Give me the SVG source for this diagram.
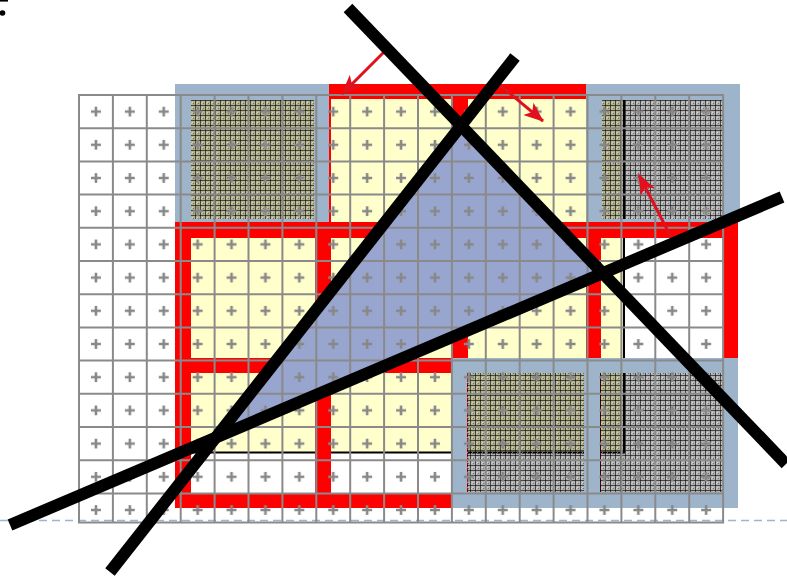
<svg xmlns="http://www.w3.org/2000/svg" width="787" height="577" viewBox="0 0 787 577">
<defs>
<style>
.red{fill:#ff0000}
.blue{fill:#9db4cb;fill-rule:evenodd}
.hatch{fill:url(#hatch)}
.grid{fill:none;stroke:#8a8a8a;stroke-width:2}
.arrow{fill:none;stroke:#e0101e;stroke-width:3;marker-end:url(#ah)}
.bar{fill:none;stroke:#000;stroke-width:12;stroke-linecap:butt}
</style>
<pattern id="hatch" width="5" height="5" patternUnits="userSpaceOnUse">
<rect width="5" height="5" fill="#000" fill-opacity="0.3"/>
<rect x="2" y="2" width="1" height="1" fill="#fff" fill-opacity="0.45"/>
<rect x="3" y="3" width="1" height="1" fill="#000" fill-opacity="0.35"/>
<rect x="1" y="3" width="1" height="1" fill="#fff" fill-opacity="0.3"/>
<path d="M0 0.5H5M0.5 0V5" stroke="#000" stroke-opacity="0.6" stroke-width="1"/>
</pattern>
<pattern id="cross" x="79" y="95" width="33.9" height="33.2" patternUnits="userSpaceOnUse">
<path d="M11.95 16.6h10M16.95 11.6v10" stroke="#888" stroke-width="2.6"/>
</pattern>
<marker id="ah" markerUnits="userSpaceOnUse" markerWidth="20" markerHeight="16" viewBox="0 0 20 16" refX="19" refY="8" orient="auto">
<path d="M0 0L20 8L0 16L5 8Z" fill="#e0101e"/>
</marker>
</defs>
<rect width="787" height="577" fill="#fff"/>
<g id="corner-mark">
<path d="M0 0.8H8" stroke="#000" stroke-width="1.6"/>
<circle cx="2.5" cy="13" r="2.8" fill="#000"/>
</g>
<g id="yellow-area">
<rect x="183" y="91" width="441" height="361.5" fill="#ffffcc" stroke="#000" stroke-width="2"/>
</g>
<g id="red-frames">
<rect class="red" x="175" y="84" width="16" height="424"/>
<rect class="red" x="315" y="84" width="16" height="424"/>
<rect class="red" x="451" y="84" width="17" height="424"/>
<rect class="red" x="586" y="84" width="15" height="424"/>
<rect class="red" x="723" y="84" width="15" height="424"/>
<rect class="red" x="175" y="84" width="563" height="15"/>
<rect class="red" x="175" y="222" width="563" height="16"/>
<rect class="red" x="175" y="358" width="563" height="15"/>
<rect class="red" x="175" y="493" width="563" height="15"/>
</g>
<g id="blue-top-left">
<path class="blue" d="M175 84H329V222H175Z M191 100H314V219H191Z"/>
<rect class="hatch" x="191" y="100" width="123" height="119"/>
</g>
<g id="blue-top-right">
<path class="blue" d="M586 84H740V222H586Z M602 100H723V219H602Z"/>
<rect class="hatch" x="602" y="100" width="121" height="119"/>
</g>
<g id="blue-bottom">
<path class="blue" d="M451 358H738V508H451Z M467 373H584V492H467Z M600 373H723V492H600Z"/>
<rect class="hatch" x="467" y="373" width="117" height="119"/>
<rect class="hatch" x="600" y="373" width="123" height="119"/>
</g>
<g id="triangle">
<path d="M461.4 125.2L603.2 272.9L215.7 437.6Z" fill="#98a5cf"/>
</g>
<g id="baseline">
<path d="M0 520.5H787" stroke="#9fb5c9" stroke-width="1.5" stroke-dasharray="8 5"/>
</g>
<g id="grid">
<rect x="79" y="95" width="644.1" height="427.5" fill="url(#cross)"/>
<path class="grid" d="M79 94V523.5M112.9 94V523.5M146.8 94V523.5M180.7 94V523.5M214.6 94V523.5M248.5 94V523.5M282.4 94V523.5M316.3 94V523.5M350.2 94V523.5M384.1 94V523.5M418 94V523.5M451.9 94V523.5M485.8 94V523.5M519.7 94V523.5M553.6 94V523.5M587.5 94V523.5M621.4 94V523.5M655.3 94V523.5M689.2 94V523.5M723.1 94V523.5M78 95H724.1M78 128.2H724.1M78 161.4H724.1M78 194.6H724.1M78 227.8H724.1M78 261H724.1M78 294.2H724.1M78 327.4H724.1M78 360.6H724.1M78 393.8H724.1M78 427H724.1M78 460.2H724.1M78 493.4H724.1M78 522.5H724.1"/>
</g>
<g id="connectors">
<path class="arrow" d="M386 50L342 94"/>
<path class="arrow" d="M495 81L543 121"/>
<path class="arrow" d="M674 243L639 175"/>
<path class="bar" d="M348 8L786 464"/>
<path class="bar" d="M110 572L515 57"/>
<path class="bar" d="M10 525L782 197"/>
</g>
</svg>
